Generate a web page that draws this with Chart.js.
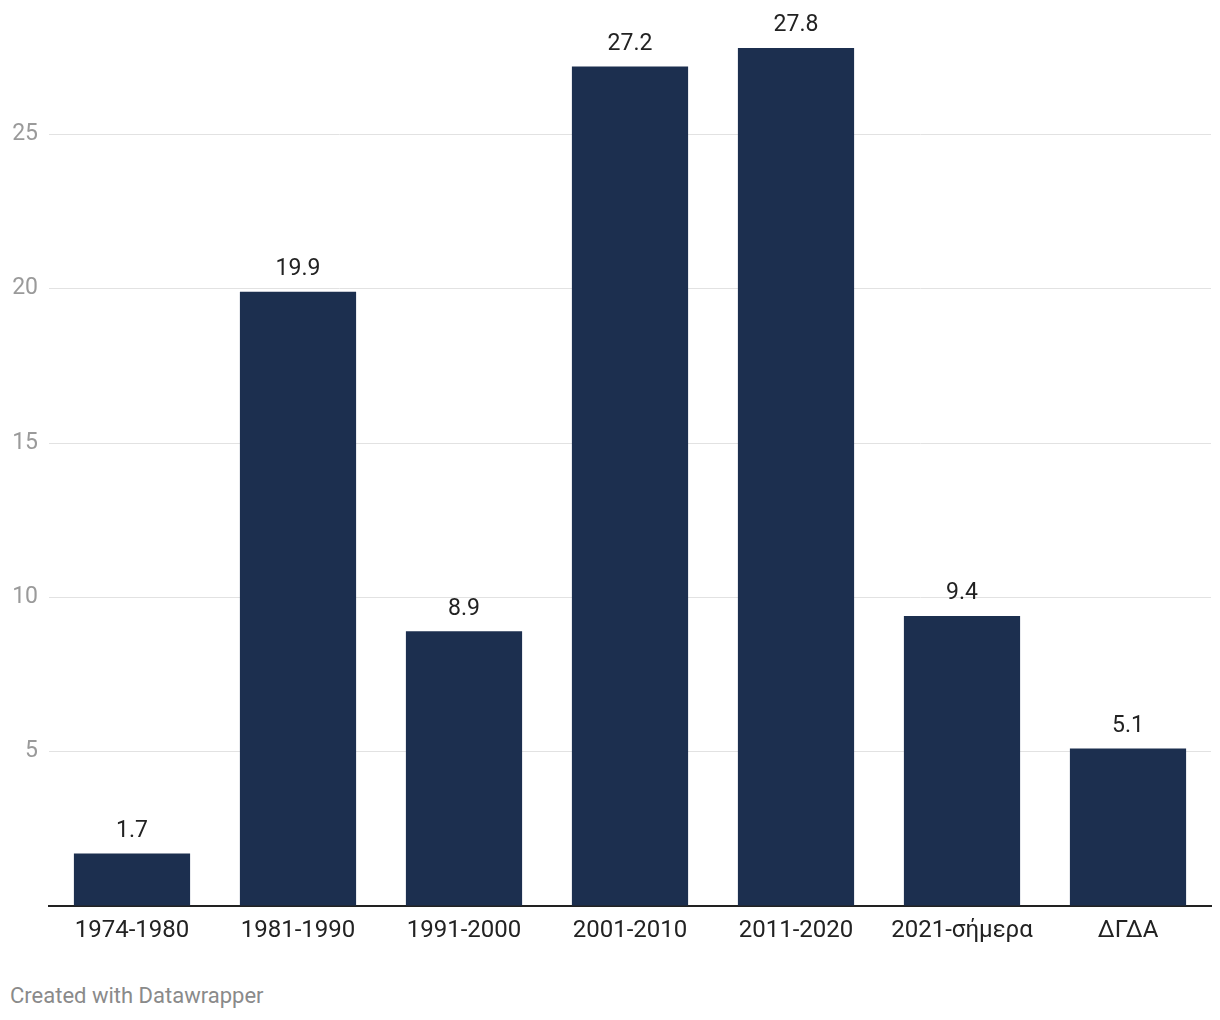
<!DOCTYPE html>
<html>
<head>
<meta charset="utf-8">
<script src="https://cdn.jsdelivr.net/npm/chart.js@4.4.1/dist/chart.umd.min.js"></script>
<style>
  body { margin: 0; background: #fff; font-family: Roboto, sans-serif; }
  #wrap { position: relative; width: 1220px; height: 960px; }
  #footer { position: absolute; left: 10px; top: 983px; font-size: 22px; color: #8a8a8a; }
</style>
</head>
<body>
<div id="wrap"><canvas id="chart"></canvas></div>
<div id="footer">Created with Datawrapper</div>
<script>
// Data
const periods = ['1974-1980', '1981-1990', '1991-2000', '2001-2010', '2011-2020', '2021-σήμερα', 'ΔΓΔΑ'];
const values = [1.7, 19.9, 8.9, 27.2, 27.8, 9.4, 5.1];
const yTicks = [5, 10, 15, 20, 25];

// value labels on top of the bars
const barLabels = {
    id: 'barLabels',
    afterDatasetsDraw(chart) {
        const c = chart.ctx;
        const meta = chart.getDatasetMeta(0);
        c.save();
        c.font = '23px Roboto';
        c.fillStyle = '#222';
        c.textAlign = 'center';
        c.textBaseline = 'bottom';
        meta.data.forEach((bar, i) => {
            c.fillText(values[i].toFixed(1), bar.x, bar.y - 11);
        });
        c.restore();
    }
};

const ctx = document.getElementById('chart').getContext('2d');
new Chart(ctx, {
    type: 'bar',
    data: {
        labels: periods,
        datasets: [{
            data: values,
            backgroundColor: '#1c2f4f',
            barPercentage: 0.7,
            categoryPercentage: 1.0,
        }]
    },
    options: {
        responsive: true,
        maintainAspectRatio: false,
        animation: false,
        layout: { padding: { top: 48, right: 9, left: 0, bottom: 0 } },
        plugins: { legend: { display: false }, tooltip: { enabled: false } },
        scales: {
            x: {
                grid: { display: false, drawTicks: false },
                border: { display: true, color: '#222', width: 2 },
                ticks: { color: '#222', font: { family: 'Roboto', size: 24 }, padding: 11, maxRotation: 0 },
                afterFit(scale) { scale.height = 54; }
            },
            y: {
                min: 0,
                max: 27.8,
                grid: {
                    drawTicks: false,
                    color: (c) => yTicks.includes(c.tick.value) ? '#e2e2e2' : 'rgba(0,0,0,0)',
                    lineWidth: 1
                },
                border: { display: false },
                ticks: {
                    stepSize: 5,
                    color: '#9a9a9a',
                    font: { family: 'Roboto', size: 23 },
                    padding: 11,
                    callback: (v) => yTicks.includes(v) ? v : ''
                },
                afterFit(scale) { scale.width = 49; }
            }
        }
    },
    plugins: [barLabels]
});
</script>
</body>
</html>
